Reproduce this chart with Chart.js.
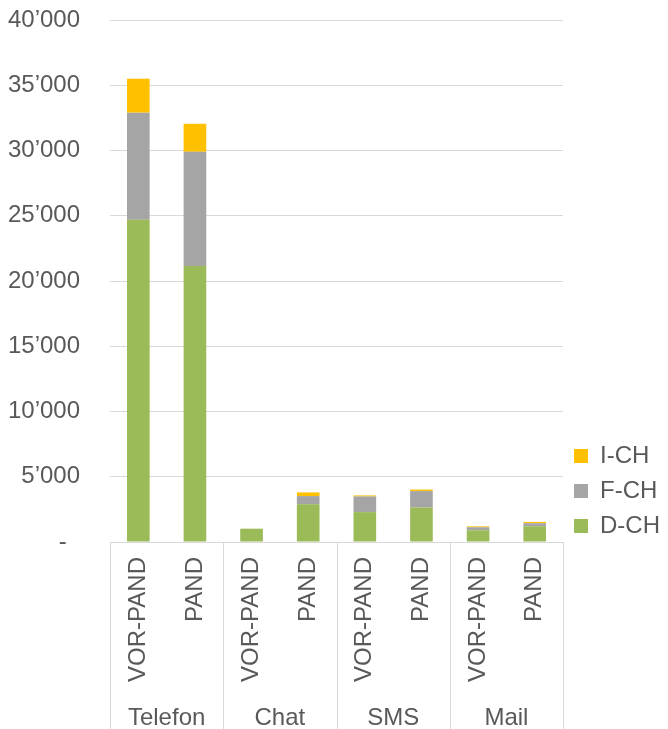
<!DOCTYPE html>
<html>
<head>
<meta charset="utf-8">
<script src="https://cdn.jsdelivr.net/npm/chart.js@4/dist/chart.umd.min.js"></script>
<style>
  html, body { margin: 0; padding: 0; background: #fff; }
  #wrap { width: 668px; height: 729px; }
</style>
</head>
<body>
<div id="wrap"><canvas id="chart" width="668" height="729"></canvas></div>
<script>
"use strict"

// channels and periods (two level category axis)
const groups = ['Telefon', 'Chat', 'SMS', 'Mail'];
const periods = ['VOR-PAND', 'PAND'];

// values per bar, order: Telefon VOR/PAND, Chat VOR/PAND, SMS VOR/PAND, Mail VOR/PAND
const dCH = [24700, 21150, 1020, 2900, 2290, 2650, 900, 1210];
const fCH = [8200, 8750, 0, 620, 1200, 1250, 230, 230];
const iCH = [2600, 2150, 0, 280, 80, 120, 70, 100];

const yTicks = [0, 5000, 10000, 15000, 20000, 25000, 30000, 35000, 40000];

const labels = [];
groups.forEach(() => periods.forEach(p => labels.push(p)));

const textColor = '#595959';
const lineColor = '#d9d9d9';
const font = { family: "'Liberation Sans', Arial, sans-serif", size: 24 };

const fmt = v => v === 0 ? '-  ' : String(v).replace(/\B(?=(\d{3})+(?!\d))/g, '\u2019');

// vertical separators between the channel groups, below the baseline
const groupLines = {
  id: 'groupLines',
  afterLayout(chart) {
    // legend sits a little lower in the original
    chart.legend.top += 7;
    chart.legend.bottom += 7;
  },
  afterDraw(chart) {
    const x = chart.scales.x;
    const ctx = chart.ctx;
    ctx.save();
    ctx.strokeStyle = lineColor;
    ctx.lineWidth = 1;
    for (let i = 0; i <= groups.length; i++) {
      const px = Math.round(x.getPixelForValue(i * periods.length - 0.5)) + 0.5;
      ctx.beginPath();
      ctx.moveTo(px, chart.chartArea.bottom);
      ctx.lineTo(px, chart.height);
      ctx.stroke();
    }
    ctx.restore();
  }
};

new Chart(document.getElementById('chart'), {
  type: 'bar',
  data: {
    labels: labels,
    datasets: [
      { label: 'D-CH', data: dCH, backgroundColor: '#9BBB59' },
      { label: 'F-CH', data: fCH, backgroundColor: '#A5A5A5' },
      { label: 'I-CH', data: iCH, backgroundColor: '#FFC000' }
    ]
  },
  options: {
    responsive: false,
    animation: false,
    datasets: { bar: { categoryPercentage: 1, barPercentage: 0.4 } },
    layout: { padding: { top: 20, left: 0, right: -2, bottom: 0 } },
    plugins: {
      tooltip: { enabled: false },
      legend: {
        position: 'right',
        align: 'end',
        fullSize: false,
        reverse: true,
        labels: { boxWidth: 14, boxHeight: 14, padding: 11, color: textColor, font: font }
      }
    },
    scales: {
      x: {
        stacked: true,
        offset: true,
        grid: { display: false },
        border: { display: true, color: lineColor, width: 1 },
        ticks: { color: textColor, font: font, minRotation: 90, maxRotation: 90, autoSkip: false, padding: 7 },
        afterFit: s => { s.height = 150; }
      },
      x2: {
        type: 'category',
        position: 'bottom',
        labels: groups,
        offset: true,
        grid: { display: false },
        border: { display: false },
        ticks: { color: textColor, font: font, padding: 4 },
        afterFit: s => { s.height = 37; }
      },
      y: {
        stacked: true,
        min: 0,
        max: 40000,
        afterBuildTicks: s => { s.ticks = yTicks.map(v => ({ value: v })); },
        grid: { color: lineColor, lineWidth: 1, drawTicks: false },
        border: { display: false },
        ticks: { color: textColor, font: font, padding: 30, callback: v => fmt(v) },
        afterFit: s => { s.width = 110; s.paddingTop = 0; s.paddingBottom = 0; }
      }
    }
  },
  plugins: [groupLines]
});
</script>
</body>
</html>
